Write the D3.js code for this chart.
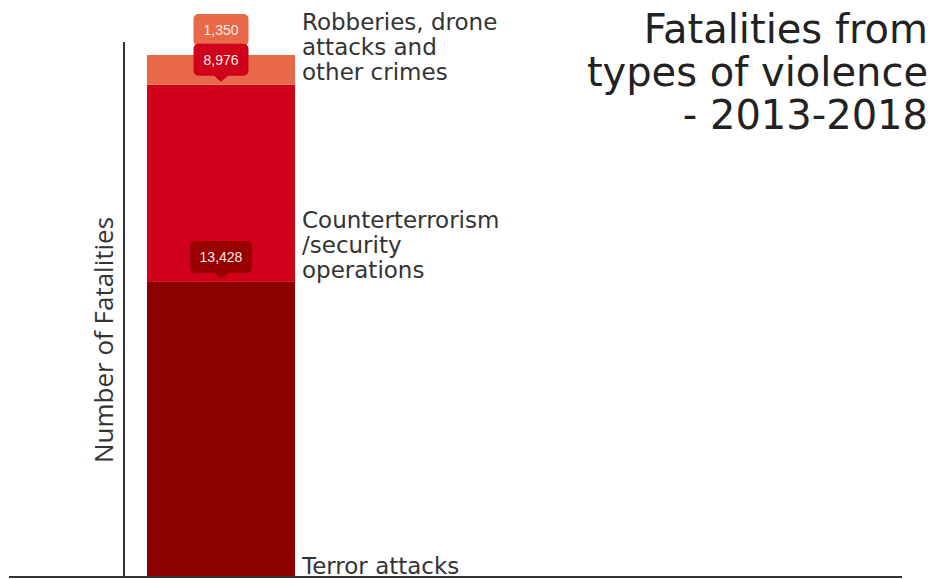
<!DOCTYPE html>
<html>
<head>
<meta charset="utf-8">
<script src="https://cdn.jsdelivr.net/npm/d3@7"></script>
<style>
  html, body { margin: 0; padding: 0; background: #fff; }
  svg { display: block; }
</style>
</head>
<body>
<svg id="chart" width="938" height="579"></svg>
<script>
// Fatalities by type of violence, 2013-2018 (single stacked column)
const categories = ["Terror attacks", "Counterterrorism/security operations", "Robberies, drone attacks and other crimes"];
const values = [13428, 8976, 1350];
const colors = ["#8b0000", "#d0021b", "#e8694a"];
const segmentLabels = [["Terror attacks"], ["Counterterrorism", "/security", "operations"], ["Robberies, drone", "attacks and", "other crimes"]];
const titleLines = ["Fatalities from", "types of violence", "- 2013-2018"];
const yAxisTitle = "Number of Fatalities";

const svg = d3.select("#chart");
const baseY = 577;
const textFont = "'DejaVu Sans', sans-serif";

const row = {};
categories.forEach((c, i) => row[c] = values[i]);
const stacked = d3.stack().keys(categories)([row]);
const total = d3.sum(values);

const x = d3.scaleBand().domain(["2013-2018"]).range([147, 295]).padding(0);
const y = d3.scaleLinear().domain([0, total]).range([baseY, 55]);

// Columns
svg.append("g").selectAll("rect")
  .data(stacked)
  .join("rect")
  .attr("x", x("2013-2018"))
  .attr("width", x.bandwidth())
  .attr("y", d => y(d[0][1]))
  .attr("height", d => y(d[0][0]) - y(d[0][1]))
  .attr("fill", (d, i) => colors[i]);

// Axis lines
svg.append("line").attr("x1", 124).attr("x2", 124).attr("y1", 42).attr("y2", baseY)
  .attr("stroke", "#333").attr("stroke-width", 2);
svg.append("line").attr("x1", 9).attr("x2", 902).attr("y1", baseY).attr("y2", baseY)
  .attr("stroke", "#333").attr("stroke-width", 2);

// Y axis title
svg.append("text")
  .attr("transform", `translate(113,340) rotate(-90)`)
  .attr("text-anchor", "middle")
  .attr("font-family", "'Open Sans', sans-serif")
  .attr("font-size", 26)
  .attr("fill", "#333")
  .text(yAxisTitle);

// Segment labels to the right of the column
const labelX = x("2013-2018") + x.bandwidth() + 7;
const labelTops = [574, 228, 30];
segmentLabels.forEach((lines, i) => {
  const t = svg.append("text")
    .attr("x", labelX)
    .attr("y", labelTops[i])
    .attr("font-family", textFont)
    .attr("font-size", 23)
    .attr("fill", "#333");
  lines.forEach((ln, k) => {
    t.append("tspan").attr("x", labelX).attr("dy", k === 0 ? 0 : 25).text(ln);
  });
});

// Title
const title = svg.append("text")
  .attr("text-anchor", "end")
  .attr("font-family", textFont)
  .attr("font-size", 40)
  .attr("fill", "#222");
titleLines.forEach((ln, k) => {
  title.append("tspan").attr("x", 928).attr("y", 43 + k * 43).text(ln);
});

// Value callouts sitting on top of each segment
const fmt = d3.format(",");
const cx = x("2013-2018") + x.bandwidth() / 2;
const boxH = 32, tipH = 6, tipW = 7, r = 5;
const order = [2, 1, 0]; // draw the top callout first so lower ones overlap it
order.forEach(i => {
  const s = stacked[i][0];
  const tipY = y(s[1]) - 3;
  const label = fmt(values[i]);
  const bw = label.length > 5 ? 62 : 55;
  const bx = cx - bw / 2, by = tipY - tipH - boxH;
  const p = d3.path();
  p.moveTo(bx + r, by);
  p.lineTo(bx + bw - r, by);
  p.arcTo(bx + bw, by, bx + bw, by + r, r);
  p.lineTo(bx + bw, by + boxH - r);
  p.arcTo(bx + bw, by + boxH, bx + bw - r, by + boxH, r);
  p.lineTo(cx + tipW, by + boxH);
  p.lineTo(cx, tipY);
  p.lineTo(cx - tipW, by + boxH);
  p.lineTo(bx + r, by + boxH);
  p.arcTo(bx, by + boxH, bx, by + boxH - r, r);
  p.lineTo(bx, by + r);
  p.arcTo(bx, by, bx + r, by, r);
  p.closePath();
  svg.append("path").attr("d", p.toString()).attr("fill", i === 0 ? "#990000" : colors[i]);
  svg.append("text")
    .attr("x", cx).attr("y", by + boxH / 2 + 5)
    .attr("text-anchor", "middle")
    .attr("font-family", "'Liberation Sans', Arial, sans-serif")
    .attr("font-size", 14)
    .attr("fill", "#fbe9e9")
    .text(label);
});
</script>
</body>
</html>
